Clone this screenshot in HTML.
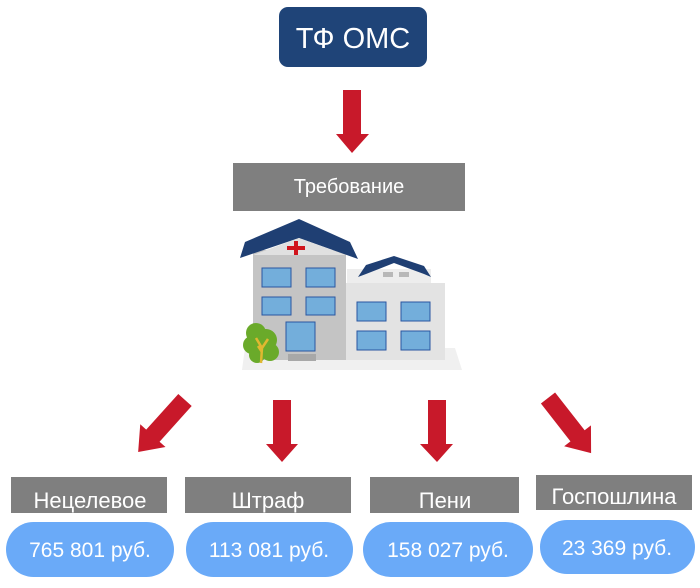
<!DOCTYPE html>
<html><head><meta charset="utf-8"><style>
html,body{margin:0;padding:0;background:#fff;}
svg{display:block;font-family:"Liberation Sans",sans-serif;}
</style></head><body>
<svg width="700" height="588" viewBox="0 0 700 588" xmlns="http://www.w3.org/2000/svg">
<rect x="279" y="7" width="148" height="60" rx="9" fill="#1f4478"/>
<text x="353" y="48" text-anchor="middle" font-size="29" fill="#fff">ТФ ОМС</text>
<polygon points="343,90 361,90 361,134 369,134 352,153 336,134 343,134" fill="#c8192a"/>
<rect x="233" y="163" width="232" height="48" fill="#7f7f7f"/>
<text x="349" y="193" text-anchor="middle" font-size="20" fill="#fff">Требование</text>
<polygon points="245,348 455,348 462,370 242,370" fill="#f0f0f0"/>
<rect x="347" y="269" width="84" height="16" fill="#ededed"/>
<rect x="346" y="283" width="99" height="77" fill="#e3e3e3"/>
<polygon points="358,277 366,265 394,256 424,266 431,277 424,274 394,263 366,274" fill="#1f3f73"/>
<rect x="383" y="272" width="10" height="5" fill="#b8b8b8"/><rect x="399" y="272" width="10" height="5" fill="#b8b8b8"/>
<rect x="253" y="250" width="93" height="110" fill="#c4c4c4"/>
<polygon points="240,258 245,242 299,219 350,242 358,259 299,238" fill="#1f3f73"/>
<polygon points="253,255 299,238 346,255" fill="#e0e0e0"/>
<rect x="287" y="246" width="18" height="4" fill="#d0141c"/><rect x="294" y="241" width="4" height="14" fill="#d0141c"/>
<g fill="#73aedb" stroke="#2a56a0" stroke-width="1">
<rect x="262" y="268" width="29" height="19"/><rect x="306" y="268" width="29" height="19"/>
<rect x="262" y="297" width="29" height="18"/><rect x="306" y="297" width="29" height="18"/>
<rect x="286" y="322" width="29" height="29"/>
<rect x="357" y="302" width="29" height="19"/><rect x="401" y="302" width="29" height="19"/>
<rect x="357" y="331" width="29" height="19"/><rect x="401" y="331" width="29" height="19"/>
</g>
<rect x="288" y="354" width="28" height="7" fill="#a8a8a8"/>
<g fill="#6aaa2a">
<circle cx="256" cy="333" r="10"/><circle cx="266" cy="340" r="11"/><circle cx="252" cy="345" r="9"/><circle cx="270" cy="352" r="9"/><circle cx="257" cy="355" r="8"/>
</g>
<path d="M261,363 L262,348 L256,338 M262,348 L268,339 M262,352 L258,346" stroke="#e0b830" stroke-width="2.5" fill="none"/>
<polygon points="273,400 291,400 291,444 298,444 282,462 266,444 273,444" fill="#c8192a"/>
<polygon points="428,400 446,400 446,444 453,444 437,462 420,444 428,444" fill="#c8192a"/>
<g transform="translate(185,400) rotate(42)"><polygon points="-9,0 9,0 9,48 17,48 0,70 -17,48 -9,48" fill="#c8192a"/></g>
<g transform="translate(548,398) rotate(-38)"><polygon points="-9,0 9,0 9,48 17,48 0,70 -17,48 -9,48" fill="#c8192a"/></g>
<g fill="#7f7f7f">
<rect x="11" y="477" width="156" height="36"/><rect x="185" y="477" width="166" height="36"/>
<rect x="370" y="477" width="149" height="36"/><rect x="536" y="475" width="156" height="35"/>
</g>
<g font-size="22" fill="#fff" text-anchor="middle">
<text x="90" y="508">Нецелевое</text><text x="268" y="508">Штраф</text>
<text x="445" y="508">Пени</text><text x="614" y="504">Госпошлина</text>
</g>
<g fill="#6aaaf8">
<rect x="6" y="522" width="168" height="55" rx="27.5"/><rect x="186" y="522" width="167" height="55" rx="27.5"/>
<rect x="363" y="522" width="170" height="55" rx="27.5"/><rect x="540" y="520" width="155" height="54" rx="27"/>
</g>
<g font-size="21" fill="#fff" text-anchor="middle">
<text x="90" y="557">765 801 руб.</text><text x="269" y="557">113 081 руб.</text>
<text x="448" y="557">158 027 руб.</text><text x="617" y="555">23 369 руб.</text>
</g>
</svg>
</body></html>
